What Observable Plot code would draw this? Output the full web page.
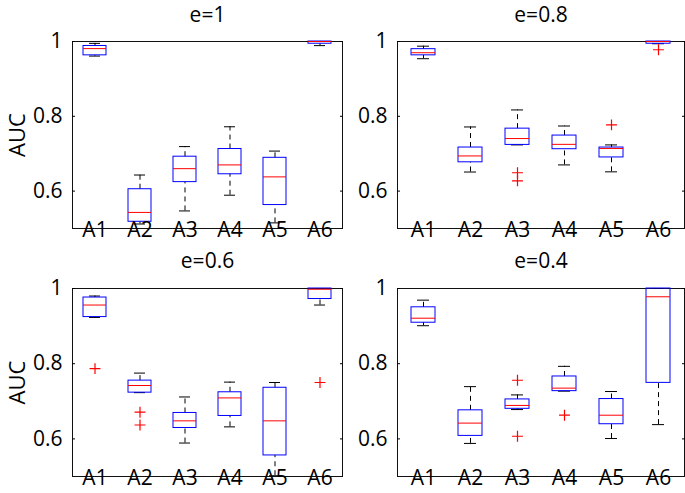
<!DOCTYPE html>
<html><head><meta charset="utf-8">
<script src="https://cdn.jsdelivr.net/npm/d3@7"></script>
<script src="https://cdn.jsdelivr.net/npm/@observablehq/plot@0.6"></script>
<style>
html,body{margin:0;padding:0;background:#fff;}
#chart{position:relative;width:685px;height:493px;overflow:hidden;font-family:"Open Sans",sans-serif;}
#chart .panel{position:absolute;}
</style></head><body><div id="chart"></div>
<script>
const categories = ["A1","A2","A3","A4","A5","A6"];
const titles = ["e=1","e=0.8","e=0.6","e=0.4"];
const yTicks = [0.6, 0.8, 1];
const whiskerLow = [
  [0.961, 0.512, 0.547, 0.589, 0.515, 0.989],
  [0.954, 0.651, 0.7235, 0.670, 0.6515, 0.994],
  [0.923, 0.723, 0.589, 0.632, 0.502, 0.956],
  [0.901, 0.588, 0.678, 0.727, 0.601, 0.638]];
const quartile1 = [
  [0.963, 0.518, 0.624, 0.645, 0.5627, 0.994],
  [0.963, 0.677, 0.7235, 0.712, 0.690, 0.994],
  [0.924, 0.723, 0.629, 0.661, 0.556, 0.972],
  [0.909, 0.608, 0.680, 0.727, 0.639, 0.749]];
const medians = [
  [0.981, 0.543, 0.660, 0.670, 0.638, 1.0],
  [0.970, 0.694, 0.7405, 0.725, 0.714, 1.0],
  [0.956, 0.742, 0.648, 0.709, 0.648, 0.998],
  [0.921, 0.642, 0.689, 0.735, 0.663, 0.978]];
const quartile3 = [
  [0.988, 0.605, 0.692, 0.7125, 0.689, 1.0],
  [0.9795, 0.7165, 0.767, 0.7485, 0.7165, 1.0],
  [0.976, 0.755, 0.669, 0.724, 0.736, 1.0],
  [0.950, 0.676, 0.705, 0.766, 0.706, 1.0]];
const whiskerHigh = [
  [0.995, 0.643, 0.719, 0.772, 0.707, 1.0],
  [0.9875, 0.7715, 0.817, 0.774, 0.7235, 1.0],
  [0.980, 0.775, 0.7115, 0.751, 0.750, 1.0],
  [0.969, 0.739, 0.717, 0.793, 0.726, 1.0]];
const outlierPanel = [1, 1, 1, 1, 2, 2, 2, 2, 3, 3, 3];
const outlierCategory = ["A3", "A3", "A5", "A6", "A1", "A2", "A2", "A6", "A3", "A3", "A4"];
const outlierValue = [0.649, 0.6275, 0.777, 0.978, 0.787, 0.671, 0.637, 0.750, 0.756, 0.607, 0.663];

const layout = [
  {left: 0,   top: 0,   width: 345, height: 245, mt: 41, mb: 17, ml: 72, mr: 3, titleDy: -26, ylabel: true},
  {left: 345, top: 0,   width: 340, height: 245, mt: 41, mb: 17, ml: 52, mr: 1, titleDy: -26, ylabel: false},
  {left: 0,   top: 245, width: 345, height: 248, mt: 43, mb: 17, ml: 72, mr: 3, titleDy: -27, ylabel: true},
  {left: 345, top: 245, width: 340, height: 248, mt: 43, mb: 17, ml: 52, mr: 1, titleDy: -27, ylabel: false}];

const chart = document.getElementById("chart");
titles.forEach((title, p) => {
  const L = layout[p];
  const boxes = categories.map((c, i) => ({
    cat: c, lo: whiskerLow[p][i], q1: quartile1[p][i], med: medians[p][i],
    q3: quartile3[p][i], hi: whiskerHigh[p][i]}));
  const outs = outlierValue.map((v, i) => ({panel: outlierPanel[i], cat: outlierCategory[i], v}))
    .filter(d => d.panel === p);
  const marks = [
    Plot.frame({stroke: "#111"}),
    Plot.ruleX(boxes, {x: "cat", y1: "q3", y2: "hi", stroke: "black", strokeDasharray: "5,4"}),
    Plot.ruleX(boxes, {x: "cat", y1: "lo", y2: "q1", stroke: "black", strokeDasharray: "5,4"}),
    Plot.tickY(boxes, {x: "cat", y: "hi", stroke: "black", insetLeft: 6, insetRight: 6}),
    Plot.tickY(boxes, {x: "cat", y: "lo", stroke: "black", insetLeft: 6, insetRight: 6}),
    Plot.barY(boxes, {x: "cat", y1: "q1", y2: "q3", fill: "none", stroke: "#0000ff", strokeWidth: 1}),
    Plot.tickY(boxes, {x: "cat", y: "med", stroke: "#ff0000"}),
    Plot.dot(outs, {x: "cat", y: "v", symbol: "plus", stroke: "#ff0000", r: 3.6, strokeWidth: 1.2}),
    Plot.axisX({tickSize: 0, tickPadding: -6, label: null}),
    Plot.axisY(yTicks, {anchor: "left", tickSize: 0, tickPadding: 10, tickFormat: d => String(d), label: null}),
    Plot.axisY(yTicks, {anchor: "left", tickSize: -3, fill: "none", label: null}),
    Plot.axisY(yTicks, {anchor: "right", tickSize: -3, fill: "none", label: null}),
    Plot.text([title], {frameAnchor: "top", lineAnchor: "middle", textAnchor: "middle", dy: L.titleDy, fontSize: 21})
  ];
  if (L.ylabel) marks.push(Plot.text(["AUC"], {frameAnchor: "left", textAnchor: "middle", lineAnchor: "middle", dx: -55, rotate: -90, fontSize: 22}));
  const svg = Plot.plot({
    width: L.width, height: L.height,
    marginTop: L.mt, marginBottom: L.mb, marginLeft: L.ml, marginRight: L.mr,
    style: {background: "transparent", overflow: "visible", fontSize: "21px", fontFamily: "Open Sans, sans-serif", color: "black"},
    x: {type: "band", domain: categories, paddingInner: 0.49, paddingOuter: 0.245},
    y: {domain: [0.5, 1]},
    marks
  });
  const div = document.createElement("div");
  div.className = "panel";
  div.style.left = L.left + "px";
  div.style.top = L.top + "px";
  div.appendChild(svg);
  chart.appendChild(div);
});
</script></body></html>
